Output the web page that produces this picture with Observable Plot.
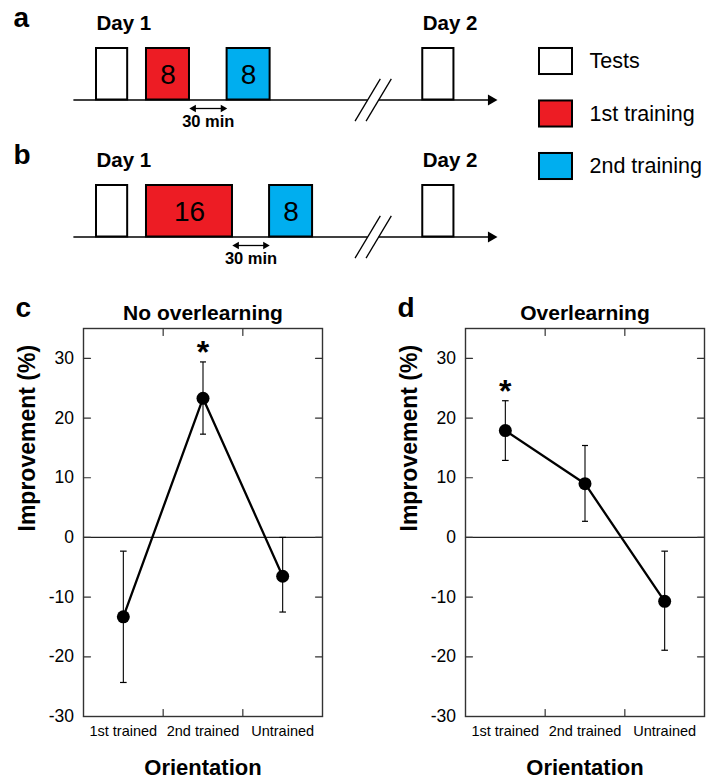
<!DOCTYPE html>
<html><head><meta charset="utf-8">
<script src="https://cdn.jsdelivr.net/npm/d3@7"></script>
<script src="https://cdn.jsdelivr.net/npm/@observablehq/plot@0.6"></script>
<style>
body{margin:0;background:#fff;}
#fig{position:relative;width:710px;height:779px;overflow:hidden;}
#fig > svg{position:absolute;overflow:visible;}
</style></head><body><div id="fig"></div>
<script>
const FONT = '"Liberation Sans", Arial, Helvetica, sans-serif';

// ---- protocol diagrams (schematic time units) ----
const sessionKinds = ["Tests", "1st training", "2nd training"];
const sessionColors = ["#ffffff", "#ED1C24", "#00AEEF"];
const protocolA = [
  {kind: "Tests", day: "Day 1", start: 0, end: 5.8, blocks: null},
  {kind: "1st training", day: "Day 1", start: 9.3, end: 17.3, blocks: 8},
  {kind: "2nd training", day: "Day 1", start: 24.3, end: 32.3, blocks: 8},
  {kind: "Tests", day: "Day 2", start: 60.7, end: 66.5, blocks: null}
];
const protocolB = [
  {kind: "Tests", day: "Day 1", start: 0, end: 5.8, blocks: null},
  {kind: "1st training", day: "Day 1", start: 9.3, end: 25.3, blocks: 16},
  {kind: "2nd training", day: "Day 1", start: 32.2, end: 40.2, blocks: 8},
  {kind: "Tests", day: "Day 2", start: 60.7, end: 66.5, blocks: null}
];
const timeAxis = {start: -4.3, end: 74.6, breakAt: [50.45, 52.5]};
const gapLabel = "30 min";

// ---- results ----
const orientations = ["1st trained", "2nd trained", "Untrained"];
const noOverMean = [-13.3, 23.3, -6.5];
const noOverLo = [-24.3, 17.3, -12.5];
const noOverHi = [-2.3, 29.4, 0];
const noOverSig = [false, true, false];
const overMean = [17.9, 9.0, -10.7];
const overLo = [12.9, 2.7, -18.9];
const overHi = [22.9, 15.4, -2.3];
const overSig = [true, false, false];
const yTicks = [-30, -20, -10, 0, 10, 20, 30];

const fig = document.getElementById("fig");
function place(el, left, top) { el.style.left = left + "px"; el.style.top = top + "px"; fig.appendChild(el); }

function timeline(letter, sessions) {
  const px = 5.375, x0 = 96, W = 710, H = 136, base = 99.5, unit = 51.5;
  const tr = sessions.filter(d => d.blocks);
  const gap = {x1: tr[0].end, x2: tr[1].start};
  const days = d3.groups(sessions, d => d.day).map(([day, v]) => ({day, start: d3.min(v, d => d.start)}));
  const [b1, b2] = timeAxis.breakAt;
  const tipOff = 1.18, headOff = 0.78;
  return Plot.plot({
    width: W, height: H, margin: 0,
    x: {domain: [-x0 / px, (W - x0) / px], axis: null},
    y: {domain: [-(H - base) / unit, base / unit], axis: null},
    color: {domain: sessionKinds, range: sessionColors},
    style: {fontFamily: FONT, background: "transparent", overflow: "visible"},
    marks: [
      Plot.link([{a: timeAxis.start, b: b1}, {a: b2, b: timeAxis.end - tipOff}],
        {x1: "a", x2: "b", y1: 0, y2: 0, stroke: "black", strokeWidth: 1.3}),
      Plot.dot([timeAxis.end], {x: d => d - tipOff, y: 0, symbol: "triangle", rotate: 90, r: 4.1, fill: "black"}),
      Plot.link(timeAxis.breakAt, {x1: d => d - 2.35, x2: d => d + 2.35, y1: -0.41, y2: 0.41, stroke: "black", strokeWidth: 1.3}),
      Plot.rect(sessions, {x1: "start", x2: "end", y1: 0, y2: 1, fill: "kind", stroke: "black", strokeWidth: 2}),
      Plot.text(tr, {x: d => (d.start + d.end) / 2, y: 0.48, text: d => String(d.blocks), fontSize: 28, fill: "black"}),
      Plot.text(days, {x: "start", y: 1.36, text: "day", textAnchor: "start", lineAnchor: "bottom", fontSize: 20.5, fontWeight: "bold"}),
      Plot.link([gap], {x1: d => d.x1 + headOff, x2: d => d.x2 - headOff, y1: -0.165, y2: -0.165, stroke: "black", strokeWidth: 1.3}),
      Plot.dot([gap], {x: d => d.x1 + headOff, y: -0.165, symbol: "triangle", rotate: -90, r: 2.8, fill: "black"}),
      Plot.dot([gap], {x: d => d.x2 - headOff, y: -0.165, symbol: "triangle", rotate: 90, r: 2.8, fill: "black"}),
      Plot.text([gap], {x: d => (d.x1 + d.x2) / 2, y: -0.42, text: () => gapLabel, fontSize: 16.5, fontWeight: "bold"}),
      Plot.text([letter], {x: (13 - x0) / px, y: 1.41, text: d => d, textAnchor: "start", lineAnchor: "bottom", fontSize: 28, fontWeight: "bold"})
    ]
  });
}

function legend() {
  return Plot.plot({
    width: 190, height: 170, marginLeft: 19, marginRight: 138, marginTop: 0, marginBottom: 0,
    x: {domain: [0, 1], axis: null},
    y: {domain: [-31 / 52.5, (170 - 31) / 52.5], reverse: true, axis: null},
    color: {domain: sessionKinds, range: sessionColors},
    style: {fontFamily: FONT, background: "transparent", overflow: "visible"},
    marks: [
      Plot.rect(sessionKinds, {x1: 0, x2: 1, y1: (d, i) => i - 0.248, y2: (d, i) => i + 0.248, fill: d => d, stroke: "black", strokeWidth: 2}),
      Plot.text(sessionKinds, {x: 1, y: (d, i) => i, dx: 17, text: d => d, textAnchor: "start", fontSize: 21.5})
    ]
  });
}

function panel(letter, title, mean, lo, hi, sig) {
  const data = orientations.map((o, i) => ({i, o, mean: mean[i], lo: lo[i], hi: hi[i], sig: sig[i]}));
  const bounds = [0.5, 1.5];
  const tick = {draw(ctx, l) { ctx.moveTo(0, 0); ctx.lineTo(0, -l); }};
  const tk = {length: 7, anchor: "start", shape: tick, stroke: "#333", strokeWidth: 1.2};
  return Plot.plot({
    width: 328, height: 499, marginLeft: 83, marginRight: 6, marginTop: 48, marginBottom: 63,
    x: {domain: [-0.5, 2.5], axis: null},
    y: {domain: [-30, 35], axis: null},
    style: {fontFamily: FONT, background: "transparent", overflow: "visible", color: "black"},
    marks: [
      Plot.ruleY([0], {stroke: "#222", strokeWidth: 1.2}),
      Plot.frame({stroke: "#333", strokeWidth: 1.4}),
      Plot.vector(yTicks, {x: -0.5, y: d => d, rotate: 90, ...tk}),
      Plot.vector(yTicks, {x: 2.5, y: d => d, rotate: -90, ...tk}),
      Plot.vector(bounds, {x: d => d, y: 35, rotate: 180, ...tk}),
      Plot.vector(bounds, {x: d => d, y: -30, rotate: 0, ...tk}),
      Plot.axisY({ticks: yTicks, tickSize: 0, tickPadding: 9.5, tickFormat: d => String(d), fontSize: 17.5, label: null}),
      Plot.axisX({ticks: [0, 1, 2], tickSize: 0, tickPadding: 9.5, tickFormat: i => orientations[i], fontSize: 14.5, label: null}),
      Plot.link(data, {x1: "i", x2: "i", y1: "lo", y2: "hi", markerStart: "tick", markerEnd: "tick", stroke: "black", strokeWidth: 1.1}),
      Plot.line(data, {x: "i", y: "mean", stroke: "black", strokeWidth: 2.3}),
      Plot.dot(data, {x: "i", y: "mean", r: 6.5, fill: "black"}),
      Plot.text(data.filter(d => d.sig), {x: "i", y: "hi", text: () => "*", fontSize: 32, fontWeight: "bold", dy: -9}),
      Plot.text([title], {frameAnchor: "top", lineAnchor: "middle", dy: -15, text: d => d, fontSize: 21, fontWeight: "bold"}),
      Plot.text([letter], {frameAnchor: "top-left", dx: -68, dy: -11.3, text: d => d, lineAnchor: "bottom", textAnchor: "start", fontSize: 28, fontWeight: "bold"}),
      Plot.text(["Improvement (%)"], {frameAnchor: "left", lineAnchor: "middle", dx: -55.5, dy: 9, rotate: -90, text: d => d, fontSize: 23, fontWeight: "bold"}),
      Plot.text(["Orientation"], {frameAnchor: "bottom", lineAnchor: "middle", dy: 51, text: d => d, fontSize: 22, fontWeight: "bold"})
    ]
  });
}

place(timeline("a", protocolA), 0, 0);
place(timeline("b", protocolB), 0, 136.5);
place(legend(), 520, 30);
place(panel("c", "No overlearning", noOverMean, noOverLo, noOverHi, noOverSig), 0, 280);
place(panel("d", "Overlearning", overMean, overLo, overHi, overSig), 382, 280);
</script></body></html>
